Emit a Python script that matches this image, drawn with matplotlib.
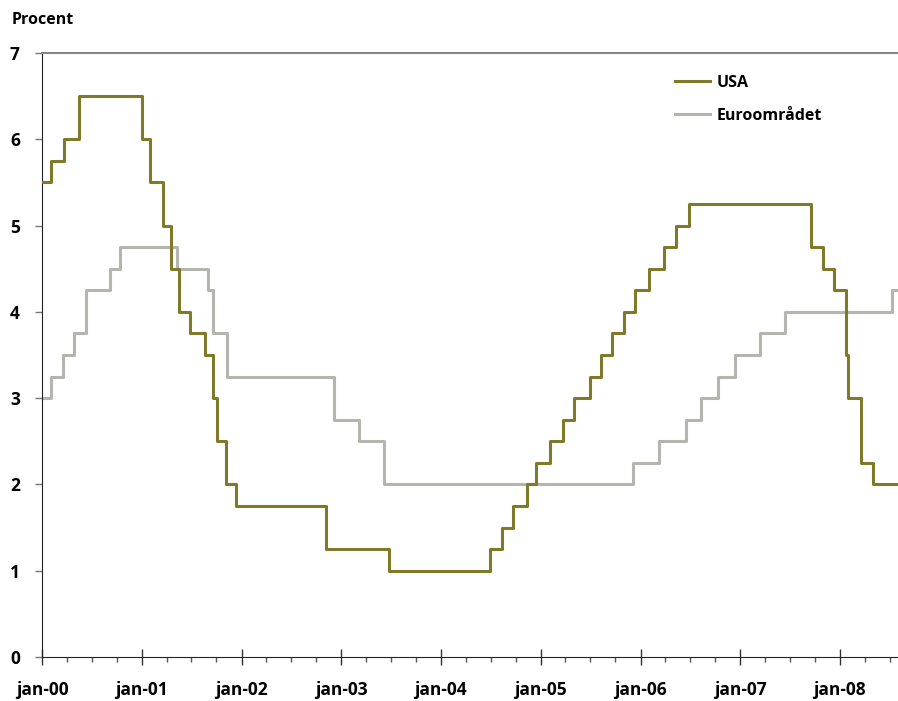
import matplotlib
matplotlib.use("Agg")
import matplotlib.pyplot as plt
import matplotlib.dates as mdates
import pandas as pd

plt.rcParams['font.family'] = ['Open Sans', 'DejaVu Sans']
plt.rcParams['font.weight'] = 'bold'

# Styrränta USA (Fed funds target), datum för ändring
usa_datum = ["2000-01-01", "2000-02-02", "2000-03-21", "2000-05-16", "2001-01-03",
             "2001-01-31", "2001-03-20", "2001-04-18", "2001-05-15", "2001-06-27",
             "2001-08-21", "2001-09-17", "2001-10-02", "2001-11-06", "2001-12-11",
             "2002-11-06", "2003-06-25", "2004-06-30", "2004-08-10", "2004-09-21",
             "2004-11-10", "2004-12-14", "2005-02-02", "2005-03-22", "2005-05-03",
             "2005-06-30", "2005-08-09", "2005-09-20", "2005-11-01", "2005-12-13",
             "2006-01-31", "2006-03-28", "2006-05-10", "2006-06-29", "2007-09-18",
             "2007-10-31", "2007-12-11", "2008-01-22", "2008-01-30", "2008-03-18",
             "2008-04-30", "2008-08-01"]
usa_ranta = [5.50, 5.75, 6.00, 6.50, 6.00,
             5.50, 5.00, 4.50, 4.00, 3.75,
             3.50, 3.00, 2.50, 2.00, 1.75,
             1.25, 1.00, 1.25, 1.50, 1.75,
             2.00, 2.25, 2.50, 2.75, 3.00,
             3.25, 3.50, 3.75, 4.00, 4.25,
             4.50, 4.75, 5.00, 5.25, 4.75,
             4.50, 4.25, 3.50, 3.00, 2.25,
             2.00, 2.00]

# Styrränta euroområdet (ECB refi)
euro_datum = ["2000-01-01", "2000-02-04", "2000-03-17", "2000-04-28", "2000-06-09",
              "2000-09-06", "2000-10-11", "2001-05-11", "2001-08-31", "2001-09-18",
              "2001-11-09", "2002-12-06", "2003-03-07", "2003-06-06", "2005-12-06",
              "2006-03-08", "2006-06-15", "2006-08-09", "2006-10-11", "2006-12-13",
              "2007-03-14", "2007-06-13", "2008-07-09", "2008-08-01"]
euro_ranta = [3.00, 3.25, 3.50, 3.75, 4.25,
              4.50, 4.75, 4.50, 4.25, 3.75,
              3.25, 2.75, 2.50, 2.00, 2.25,
              2.50, 2.75, 3.00, 3.25, 3.50,
              3.75, 4.00, 4.25, 4.25]

usa_farg = "#7f7a2a"
euro_farg = "#b5b5b0"

fig = plt.figure(figsize=(8.98, 7.01), dpi=100)
ax = fig.add_axes([42 / 898, 1 - 657 / 701, 1 - 42 / 898, (657 - 53) / 701])

ax.step(pd.to_datetime(usa_datum), usa_ranta, where="post", color=usa_farg, lw=2.2, label="USA", zorder=3)
ax.step(pd.to_datetime(euro_datum), euro_ranta, where="post", color=euro_farg, lw=2.2, label="Euroområdet", zorder=2)

ax.set_xlim(pd.Timestamp("2000-01-01"), pd.Timestamp("2008-08-01"))
ax.set_ylim(0, 7)

ax.xaxis.set_major_locator(mdates.YearLocator())
ax.xaxis.set_minor_locator(mdates.MonthLocator(bymonth=[4, 7, 10]))
ax.xaxis.set_major_formatter(mdates.DateFormatter("jan-%y"))
ax.set_yticks(range(0, 8))

ax.tick_params(axis="x", which="major", direction="inout", length=11, width=1, color="#333333",
               labelsize=12.5, pad=12)
ax.tick_params(axis="x", which="minor", direction="out", length=3.6, width=1, color="#555555")
ax.tick_params(axis="y", direction="out", length=5, width=1, color="#777777", labelsize=12.5, pad=11)

for lab in ax.get_xticklabels() + ax.get_yticklabels():
    lab.set_fontweight("bold")

ax.spines["right"].set_visible(False)
ax.spines["top"].set_color("#888888")
ax.spines["top"].set_linewidth(1.5)
ax.spines["left"].set_color("#222222")
ax.spines["bottom"].set_color("#222222")

fig.text(12 / 898, 1 - 20 / 701, "Procent", fontsize=11.5, fontweight="bold", va="center", ha="left")

leg = ax.legend(loc="upper left", bbox_to_anchor=(0.730, 0.977), frameon=False, borderpad=0,
                handlelength=2.2, handletextpad=0.4, labelspacing=1.05, fontsize=11.5)
for t in leg.get_texts():
    t.set_fontweight("bold")

fig.savefig("out.png", dpi=100)
